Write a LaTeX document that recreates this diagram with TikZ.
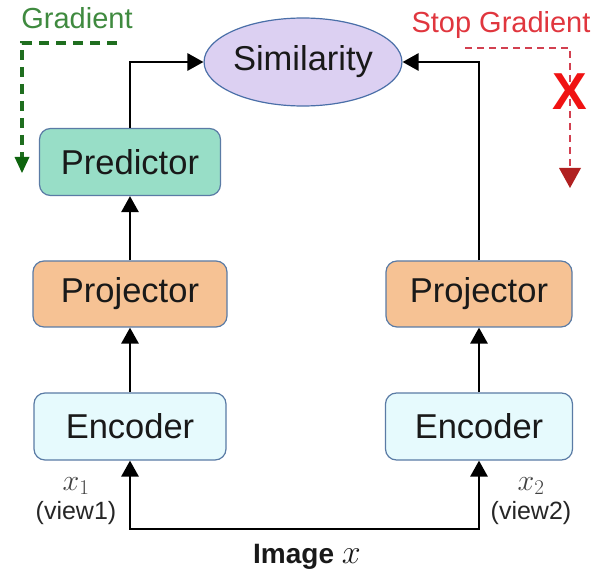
\RequirePackage{fix-cm}
\documentclass[tikz,border=0pt]{standalone}
\usepackage{fontspec}
\setmainfont{Liberation Sans}
\usetikzlibrary{arrows.meta,shapes.geometric}
\definecolor{bordc}{HTML}{5A7BA5}
\definecolor{simfill}{HTML}{DCD0F2}
\definecolor{simbord}{HTML}{4A6FA8}
\definecolor{predfill}{HTML}{98DEC7}
\definecolor{projfill}{HTML}{F6C294}
\definecolor{encfill}{HTML}{E6FAFD}
\definecolor{gtextc}{HTML}{3F8A3F}
\definecolor{glinec}{HTML}{1F6E1F}
\definecolor{gtipc}{HTML}{0E640E}
\definecolor{rtextc}{HTML}{E0363E}
\definecolor{rlinec}{HTML}{D24050}
\definecolor{rtipc}{HTML}{B02020}
\definecolor{xc}{HTML}{F01212}
\tikzset{
  boxstyle/.style={draw=bordc, line width=1.2pt, rounded corners=11pt, inner sep=0pt,
    font=\fontsize{34.5}{36}\selectfont, text=black!90},
  arr/.style={line width=2.8pt, -{Triangle[length=16pt,width=17pt]}},
  arrboth/.style={line width=2.8pt, {Triangle[length=16pt,width=17pt]}-{Triangle[length=16pt,width=17pt]}},
  gdash/.style={draw=glinec, line width=3.8pt, dash pattern=on 10pt off 7pt,
    -{Triangle[length=16pt,width=15pt,fill=gtipc,line width=0pt]}},
  rdash/.style={draw=rlinec, line width=2.2pt, dash pattern=on 7pt off 5pt,
    -{Triangle[length=20pt,width=22pt,fill=rtipc,line width=0pt]}},
  smalllab/.style={font=\fontsize{25}{27}\selectfont, text=black!85, inner sep=0pt},
  mathlab/.style={font=\fontsize{30}{30}\selectfont, text=black!75, inner sep=0pt},
}
\begin{document}
\begin{tikzpicture}[x=1pt,y=-1pt]
\useasboundingbox (0,0) rectangle (598,575);
% nodes
\node[ellipse, draw=simbord, line width=1.2pt, fill=simfill, minimum width=191pt, minimum height=88pt,
  inner sep=0pt, font=\fontsize{34.5}{36}\selectfont, text=black!90] (sim) at (303,62) {Similarity};
\node[boxstyle, fill=predfill, minimum width=181pt, minimum height=67pt] (pred) at (130,162) {Predictor};
\node[boxstyle, fill=projfill, minimum width=194pt, minimum height=66pt] (projL) at (130,294) {Projector};
\node[boxstyle, fill=projfill, minimum width=186pt, minimum height=66pt] (projR) at (479,294) {Projector};
\node[boxstyle, fill=encfill, minimum width=192pt, minimum height=67pt] (encL) at (130,426.5) {Encoder};
\node[boxstyle, fill=encfill, minimum width=187pt, minimum height=67pt] (encR) at (479,426.5) {Encoder};
% connectors
\draw[arr] (pred.north) |- (sim.west);
\draw[arr] (projR.north) |- (sim.east);
\draw[arr] (projL.north) -- (pred.south);
\draw[arr] (encL.north) -- (projL.south);
\draw[arr] (encR.north) -- (projR.south);
\coordinate (b) at (304,529);
\draw[arrboth] (encL.south) |- (b) -| (encR.south);
% labels
\node[mathlab] (x1) at (76,486) {$x_1$};
\node[smalllab] (v1) at (76,513) {(view1)};
\node[mathlab] (x2) at (531,486) {$x_2$};
\node[smalllab] (v2) at (531,513) {(view2)};
\node[inner sep=0pt, font=\fontsize{28}{30}\selectfont, text=black!90] (img) at (307,557) {\textbf{Image} \fontsize{34}{34}\selectfont$x$};
% gradient
\node[inner sep=0pt, font=\fontsize{29}{31}\selectfont, text=gtextc] (gtext) at (77,18) {Gradient};
\coordinate (g1) at (117,43);
\coordinate (g2) at (22,173);
\draw[gdash] (g1) -| (g2);
% stop gradient
\node[inner sep=0pt, font=\fontsize{29}{31}\selectfont, text=rtextc] (stext) at (501,25) {Stop Gradient};
\coordinate (s1) at (465,48);
\coordinate (s2) at (570,188);
\draw[rdash] (s1) -| (s2);
\node[inner sep=0pt, font=\fontsize{52}{52}\selectfont\bfseries, text=xc] (xmark) at (570,92) {X};
\end{tikzpicture}
\end{document}
